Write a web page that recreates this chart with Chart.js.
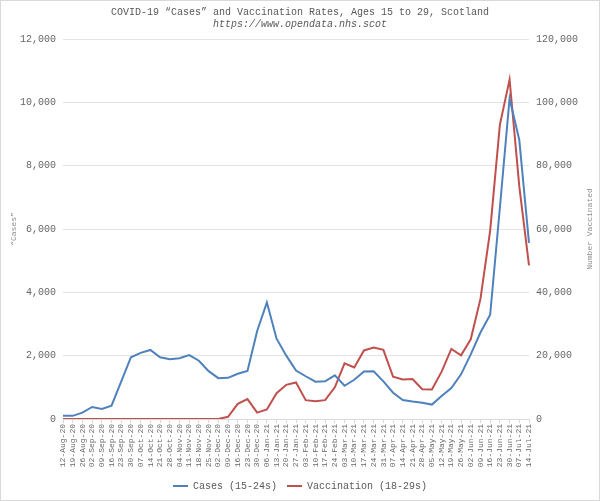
<!DOCTYPE html>
<html>
<head>
<meta charset="utf-8">
<script src="https://cdn.jsdelivr.net/npm/chart.js@4/dist/chart.umd.min.js"></script>
<style>
  html, body { margin: 0; padding: 0; background: #fff; }
</style>
</head>
<body>
<canvas id="myChart" width="600" height="501"></canvas>
<script>
// weekly dates
const weeks = ['12-Aug-20','19-Aug-20','26-Aug-20','02-Sep-20','09-Sep-20','16-Sep-20','23-Sep-20','30-Sep-20',
  '07-Oct-20','14-Oct-20','21-Oct-20','28-Oct-20','04-Nov-20','11-Nov-20','18-Nov-20','25-Nov-20',
  '02-Dec-20','09-Dec-20','16-Dec-20','23-Dec-20','30-Dec-20','06-Jan-21','13-Jan-21','20-Jan-21',
  '27-Jan-21','03-Feb-21','10-Feb-21','17-Feb-21','24-Feb-21','03-Mar-21','10-Mar-21','17-Mar-21',
  '24-Mar-21','31-Mar-21','07-Apr-21','14-Apr-21','21-Apr-21','28-Apr-21','05-May-21','12-May-21',
  '19-May-21','26-May-21','02-Jun-21','09-Jun-21','16-Jun-21','23-Jun-21','30-Jun-21','07-Jul-21','14-Jul-21'];

// cases, 15-24s (left axis)
const cases = [100,100,200,380,320,420,1190,1950,
  2090,2180,1950,1890,1920,2020,1840,1510,
  1290,1300,1430,1520,2780,3680,2535,2000,
  1530,1350,1180,1190,1380,1050,1240,1500,
  1510,1190,830,600,550,510,455,727,
  980,1410,2040,2730,3290,6670,10120,8810,5560];

// vaccinations, 18-29s (right axis)
const vaccinated = [0,0,0,0,0,0,0,0,
  0,0,0,0,0,0,0,0,
  0,700,4800,6300,2000,3000,8150,10800,
  11550,5950,5600,5950,10000,17600,16300,21650,
  22600,21850,13350,12500,12600,9400,9300,14960,
  22130,20130,25180,37930,59500,92900,107200,73450,48500];

const FONT = '"Liberation Mono", "Courier New", monospace';

// white background + thin frame
const frame = {
    id: 'frame',
    beforeDraw(chart) {
        const c = chart.ctx;
        c.save();
        c.fillStyle = '#fff';
        c.fillRect(0, 0, chart.width, chart.height);
        c.strokeStyle = '#d9d9d9';
        c.lineWidth = 1;
        c.strokeRect(0.5, 0.5, chart.width - 1, chart.height - 1);
        c.restore();
    }
};

// right axis title, reads bottom to top like the left one
const rightTitle = {
    id: 'rightTitle',
    afterDraw(chart) {
        const c = chart.ctx;
        const a = chart.chartArea;
        c.save();
        c.translate(590, (a.top + a.bottom) / 2);
        c.rotate(-Math.PI / 2);
        c.font = '8px ' + FONT;
        c.fillStyle = '#8c8c8c';
        c.textAlign = 'center';
        c.textBaseline = 'middle';
        c.fillText('Number Vaccinated', 0, 0);
        c.restore();
    }
};

const data = {
    labels: weeks,
    datasets: [{
        label: 'Cases (15-24s)',
        data: cases,
        borderColor: '#4f81bd',
        backgroundColor: '#4f81bd',
        borderWidth: 2,
        pointRadius: 0,
        tension: 0,
        yAxisID: 'y'
    }, {
        label: 'Vaccination (18-29s)',
        data: vaccinated,
        borderColor: '#c0504d',
        backgroundColor: '#c0504d',
        borderWidth: 2,
        pointRadius: 0,
        tension: 0,
        yAxisID: 'y1'
    }]
};

const config = {
    type: 'line',
    data: data,
    plugins: [frame, rightTitle],
    options: {
        responsive: false,
        animation: false,
        devicePixelRatio: 1,
        layout: { padding: 0 },
        plugins: {
            title: {
                display: true,
                text: 'COVID-19 \u201cCases\u201d and Vaccination Rates, Ages 15 to 29, Scotland',
                color: '#595959',
                font: { family: FONT, size: 10, weight: 'normal' },
                padding: { top: 6, bottom: 0 }
            },
            subtitle: {
                display: true,
                text: 'https://www.opendata.nhs.scot',
                color: '#595959',
                font: { family: FONT, size: 10, style: 'italic' },
                padding: { top: 0, bottom: 9 }
            },
            legend: {
                position: 'bottom',
                labels: {
                    color: '#595959',
                    font: { family: FONT, size: 10 },
                    usePointStyle: true,
                    pointStyle: 'line',
                    pointStyleWidth: 15,
                    padding: 10
                }
            },
            tooltip: { enabled: false }
        },
        scales: {
            x: {
                grid: { drawOnChartArea: false, drawTicks: true, tickLength: 4, color: '#d9d9d9' },
                border: { color: '#d9d9d9' },
                ticks: {
                    autoSkip: false, maxRotation: 90, minRotation: 90,
                    color: '#666', font: { family: FONT, size: 8 }, padding: 1
                },
                afterFit(scale) { scale.height = 52; }
            },
            y: {
                position: 'left',
                min: 0, max: 12000,
                ticks: { stepSize: 2000, color: '#666', font: { family: FONT, size: 10 }, padding: 7 },
                grid: { color: '#e3e3e3', drawTicks: false },
                border: { display: false },
                title: {
                    display: true, text: '\u201cCases\u201d', color: '#8c8c8c',
                    font: { family: FONT, size: 8 }, padding: { top: 9, bottom: 0 }
                },
                afterFit(scale) { scale.width = 63; }
            },
            y1: {
                position: 'right',
                min: 0, max: 120000,
                ticks: { stepSize: 20000, color: '#666', font: { family: FONT, size: 10 }, padding: 7 },
                grid: { drawOnChartArea: false, drawTicks: false },
                border: { display: false },
                afterFit(scale) { scale.width = 71; }
            }
        }
    }
};

var ctx = document.getElementById("myChart");
var newmychart = new Chart(ctx, config);
</script>
</body>
</html>
